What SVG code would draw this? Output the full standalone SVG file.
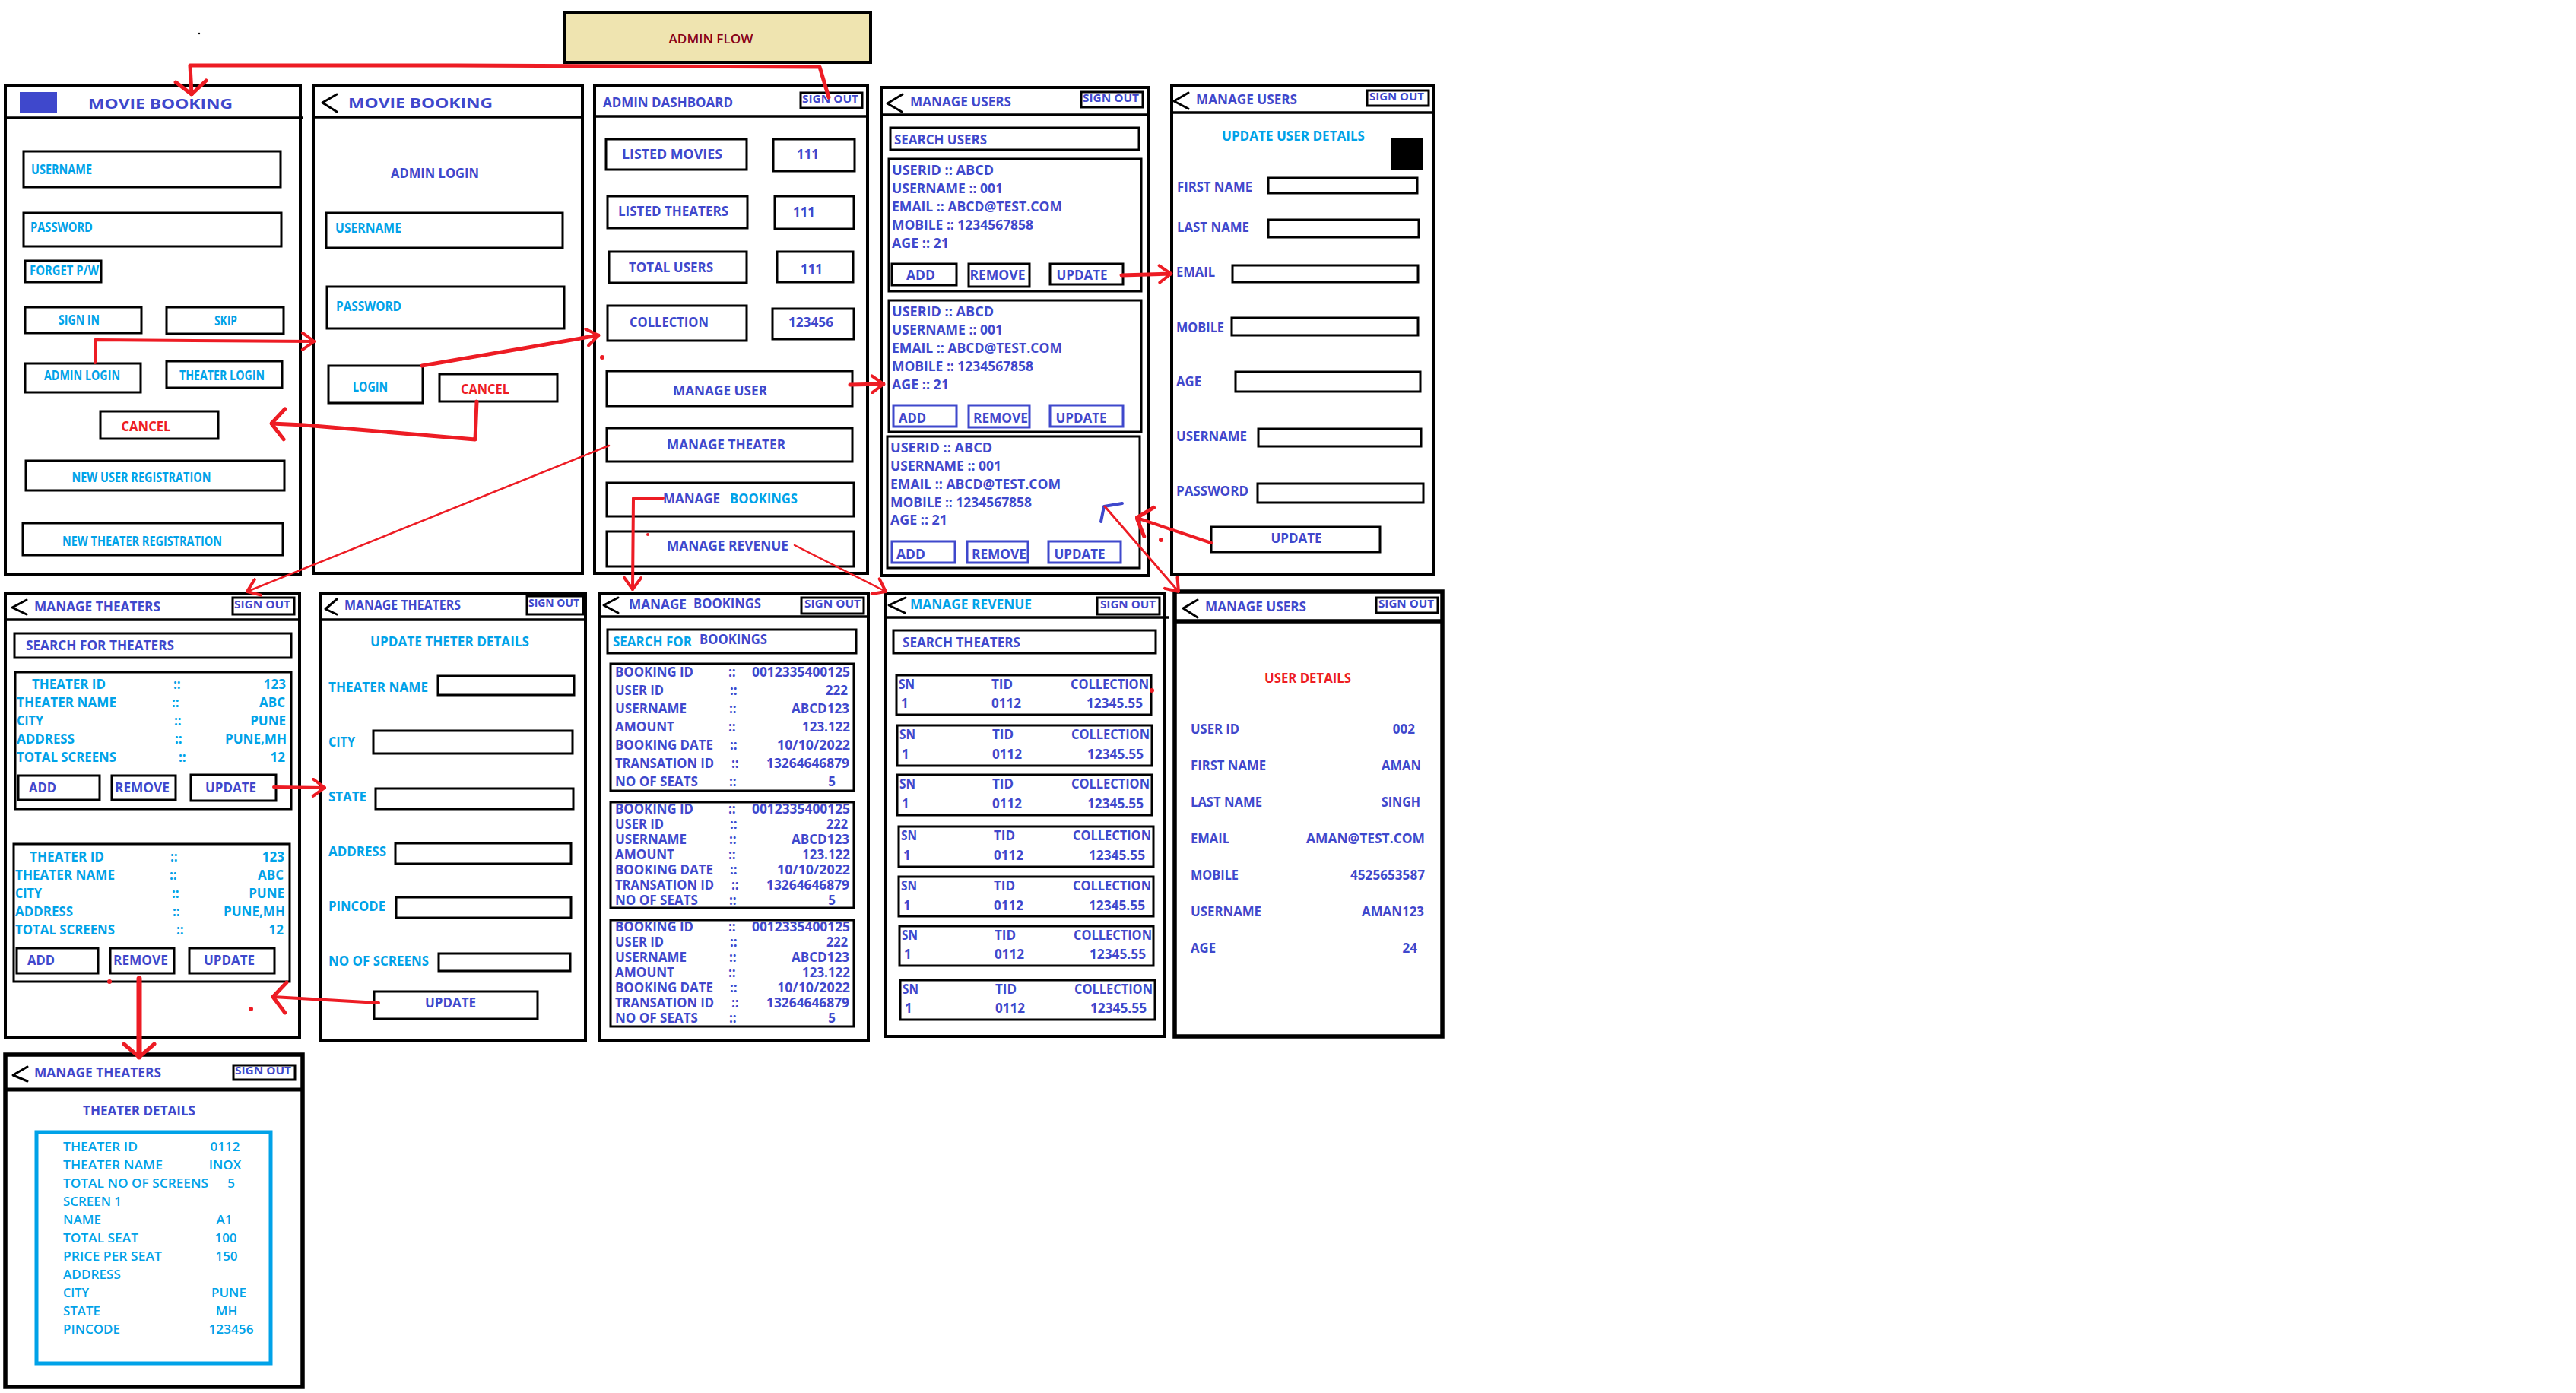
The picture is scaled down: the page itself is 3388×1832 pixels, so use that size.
<svg xmlns="http://www.w3.org/2000/svg" width="3388" height="1832" viewBox="0 0 3388 1832">
<style>
text{font-family:'Open Sans','Liberation Sans',Arial,sans-serif;font-weight:700;font-size:17px}
.b{fill:#3F48CC}.c{fill:#00A2E8}.r{fill:#ED1C24}
.mid{text-anchor:middle}.end{text-anchor:end}
.scr{fill:none;stroke:#000;stroke-width:4}
.scr5{fill:none;stroke:#000;stroke-width:5.5}
.k{fill:none;stroke:#000;stroke-width:3}
.kb{fill:none;stroke:#3F48CC;stroke-width:3}
.ln{stroke:#000;stroke-width:3.5}
.bk{fill:none;stroke:#000;stroke-width:3;stroke-linecap:round;stroke-linejoin:round}
.so{font-size:14px}
.con{fill:none;stroke:#ED1C24;stroke-linecap:round;stroke-linejoin:round}
</style>
<defs>
<marker id="ah" viewBox="0 0 20 26" refX="18" refY="13" markerWidth="20" markerHeight="26" markerUnits="userSpaceOnUse" orient="auto"><path d="M3,2 L18,13 L3,24" fill="none" stroke="#ED1C24" stroke-width="4" stroke-linecap="round"/></marker>
<marker id="ah2" viewBox="0 0 22 46" refX="20" refY="23" markerWidth="22" markerHeight="46" markerUnits="userSpaceOnUse" orient="auto"><path d="M3,3 L20,23 L3,43" fill="none" stroke="#ED1C24" stroke-width="5" stroke-linecap="round"/></marker>
</defs>
<rect width="3388" height="1832" fill="#fff"/>

<g id="title">
<rect x="742" y="17" width="403" height="65" fill="#EFE4B0" stroke="#000" stroke-width="4"/>
<text x="935" y="57" class="mid" fill="#880015" style="font-weight:600" font-size="16" textLength="111" lengthAdjust="spacingAndGlyphs">ADMIN FLOW</text>
</g>
<circle cx="262" cy="44" r="1.2" fill="#000"/>

<g id="screen-login">
<rect x="7" y="112" width="388" height="644" class="scr"/>
<line x1="6" y1="155" x2="398" y2="155" class="ln"/>
<rect x="26" y="121" width="49" height="27" fill="#3F48CC"/>
<text x="116" y="143" class="b" font-size="22" textLength="190" lengthAdjust="spacingAndGlyphs">MOVIE BOOKING</text>
<rect x="31" y="199" width="338" height="47" class="k"/>
<text x="41" y="229" class="c" font-size="14" textLength="80" lengthAdjust="spacingAndGlyphs">USERNAME</text>
<rect x="31" y="280" width="339" height="44" class="k"/>
<text x="40" y="305" class="c" font-size="14" textLength="82" lengthAdjust="spacingAndGlyphs">PASSWORD</text>
<rect x="33" y="343" width="100" height="28" class="k"/>
<text x="39" y="362" class="c" font-size="14" textLength="91" lengthAdjust="spacingAndGlyphs">FORGET P/W</text>
<rect x="33" y="404" width="153" height="34" class="k"/>
<text x="104" y="427" class="c mid" font-size="14" textLength="54" lengthAdjust="spacingAndGlyphs">SIGN IN</text>
<rect x="219" y="404" width="154" height="35" class="k"/>
<text x="297" y="428" class="c mid" font-size="14" textLength="30" lengthAdjust="spacingAndGlyphs">SKIP</text>
<rect x="33" y="478" width="152" height="38" class="k"/>
<text x="108" y="500" class="c mid" font-size="14" textLength="100" lengthAdjust="spacingAndGlyphs">ADMIN LOGIN</text>
<rect x="219" y="475" width="152" height="35" class="k"/>
<text x="292" y="500" class="c mid" font-size="14" textLength="112" lengthAdjust="spacingAndGlyphs">THEATER LOGIN</text>
<rect x="132" y="541" width="155" height="36" class="k"/>
<text x="192" y="567" class="r mid" font-size="18" textLength="65" lengthAdjust="spacingAndGlyphs">CANCEL</text>
<rect x="34" y="606" width="340" height="39" class="k"/>
<text x="186" y="634" class="c mid" font-size="14" textLength="183" lengthAdjust="spacingAndGlyphs">NEW USER REGISTRATION</text>
<rect x="30" y="688" width="342" height="42" class="k"/>
<text x="187" y="718" class="c mid" font-size="14" textLength="210" lengthAdjust="spacingAndGlyphs">NEW THEATER REGISTRATION</text>
</g>

<g id="screen-admin-login">
<rect x="412" y="113" width="354" height="641" class="scr"/>
<line x1="410" y1="154" x2="767" y2="154" class="ln"/>
<polyline points="443,124 424,135 443,147" class="bk"/>
<text x="458" y="142" class="b" font-size="22" textLength="190" lengthAdjust="spacingAndGlyphs">MOVIE BOOKING</text>
<text x="514" y="234" class="b" textLength="116" lengthAdjust="spacingAndGlyphs">ADMIN LOGIN</text>
<rect x="429" y="280" width="311" height="46" class="k"/>
<text x="441" y="306" class="c" font-size="15" textLength="87" lengthAdjust="spacingAndGlyphs">USERNAME</text>
<rect x="430" y="377" width="312" height="55" class="k"/>
<text x="442" y="409" class="c" font-size="15" textLength="86" lengthAdjust="spacingAndGlyphs">PASSWORD</text>
<rect x="432" y="481" width="124" height="49" class="k"/>
<text x="464" y="515" class="c" font-size="15" textLength="46" lengthAdjust="spacingAndGlyphs">LOGIN</text>
<rect x="578" y="492" width="155" height="36" class="k"/>
<text x="606" y="518" class="r" font-size="18" textLength="64" lengthAdjust="spacingAndGlyphs">CANCEL</text>
</g>

<g id="screen-admin-dashboard">
<rect x="782" y="113" width="359" height="641" class="scr"/>
<line x1="782" y1="153" x2="1141" y2="153" class="ln"/>
<text x="793" y="141" class="b" textLength="171" lengthAdjust="spacingAndGlyphs">ADMIN DASHBOARD</text>
<rect x="1053" y="122" width="81" height="20" class="k"/>
<text x="1055" y="135" class="b so" textLength="74" lengthAdjust="spacingAndGlyphs">SIGN OUT</text>
<rect x="797" y="183" width="185" height="40" class="k"/>
<text x="818" y="209" class="b" textLength="132" lengthAdjust="spacingAndGlyphs">LISTED  MOVIES</text>
<rect x="1017" y="183" width="107" height="42" class="k"/>
<text x="1048" y="209" class="b" textLength="29" lengthAdjust="spacingAndGlyphs">111</text>
<rect x="799" y="258" width="184" height="42" class="k"/>
<text x="813" y="284" class="b" textLength="145" lengthAdjust="spacingAndGlyphs">LISTED THEATERS</text>
<rect x="1019" y="258" width="104" height="43" class="k"/>
<text x="1043" y="285" class="b" textLength="29" lengthAdjust="spacingAndGlyphs">111</text>
<rect x="801" y="331" width="181" height="41" class="k"/>
<text x="827" y="358" class="b" textLength="111" lengthAdjust="spacingAndGlyphs">TOTAL USERS</text>
<rect x="1022" y="331" width="100" height="40" class="k"/>
<text x="1053" y="360" class="b" textLength="29" lengthAdjust="spacingAndGlyphs">111</text>
<rect x="799" y="402" width="183" height="46" class="k"/>
<text x="828" y="430" class="b" textLength="104" lengthAdjust="spacingAndGlyphs">COLLECTION</text>
<rect x="1016" y="406" width="107" height="40" class="k"/>
<text x="1037" y="430" class="b" textLength="59" lengthAdjust="spacingAndGlyphs">123456</text>
<rect x="798" y="488" width="323" height="46" class="k"/>
<text x="885" y="520" class="b" textLength="124" lengthAdjust="spacingAndGlyphs">MANAGE USER</text>
<rect x="798" y="563" width="323" height="44" class="k"/>
<text x="877" y="591" class="b" textLength="156" lengthAdjust="spacingAndGlyphs">MANAGE THEATER</text>
<rect x="798" y="635" width="325" height="44" class="k"/>
<text x="872" y="662" class="b" textLength="75" lengthAdjust="spacingAndGlyphs">MANAGE</text>
<text x="960" y="662" class="c" textLength="89" lengthAdjust="spacingAndGlyphs">BOOKINGS</text>
<rect x="798" y="699" width="325" height="46" class="k"/>
<text x="877" y="724" class="b" textLength="160" lengthAdjust="spacingAndGlyphs">MANAGE REVENUE</text>
</g>

<g id="screen-manage-users">
<rect x="1159" y="115" width="351" height="642" class="scr"/>
<line x1="1157" y1="151" x2="1510" y2="151" class="ln"/>
<polyline points="1187,124 1167,136 1186,147" class="bk"/>
<text x="1197" y="140" class="b" textLength="133" lengthAdjust="spacingAndGlyphs">MANAGE USERS</text>
<rect x="1422" y="121" width="81" height="20" class="k"/>
<text x="1424" y="134" class="b so" textLength="74" lengthAdjust="spacingAndGlyphs">SIGN OUT</text>
<rect x="1171" y="168" width="327" height="29" class="k"/>
<text x="1176" y="190" class="b" textLength="122" lengthAdjust="spacingAndGlyphs">SEARCH USERS</text>
<rect x="1169" y="209" width="332" height="174" class="k"/>
<text x="1173" y="230" class="b" textLength="134" lengthAdjust="spacingAndGlyphs">USERID ::  ABCD</text>
<text x="1173" y="254" class="b" textLength="146" lengthAdjust="spacingAndGlyphs">USERNAME :: 001</text>
<text x="1173" y="278" class="b" textLength="224" lengthAdjust="spacingAndGlyphs">EMAIL :: ABCD@TEST.COM</text>
<text x="1173" y="302" class="b" textLength="186" lengthAdjust="spacingAndGlyphs">MOBILE :: 1234567858</text>
<text x="1173" y="326" class="b" textLength="75" lengthAdjust="spacingAndGlyphs">AGE :: 21</text>
<rect x="1173" y="347" width="85" height="28" class="k"/>
<text x="1211" y="368" class="b mid" textLength="38" lengthAdjust="spacingAndGlyphs">ADD</text>
<rect x="1274" y="347" width="80" height="30" class="k"/>
<text x="1312" y="368" class="b mid" textLength="73" lengthAdjust="spacingAndGlyphs">REMOVE</text>
<rect x="1381" y="347" width="96" height="27" class="k"/>
<text x="1423" y="368" class="b mid" textLength="67" lengthAdjust="spacingAndGlyphs">UPDATE</text>
<rect x="1169" y="395" width="332" height="173" class="k"/>
<text x="1173" y="416" class="b" textLength="134" lengthAdjust="spacingAndGlyphs">USERID ::  ABCD</text>
<text x="1173" y="440" class="b" textLength="146" lengthAdjust="spacingAndGlyphs">USERNAME :: 001</text>
<text x="1173" y="464" class="b" textLength="224" lengthAdjust="spacingAndGlyphs">EMAIL :: ABCD@TEST.COM</text>
<text x="1173" y="488" class="b" textLength="186" lengthAdjust="spacingAndGlyphs">MOBILE :: 1234567858</text>
<text x="1173" y="512" class="b" textLength="75" lengthAdjust="spacingAndGlyphs">AGE :: 21</text>
<rect x="1175" y="533" width="83" height="28" class="kb"/>
<text x="1200" y="556" class="b mid" textLength="36" lengthAdjust="spacingAndGlyphs">ADD</text>
<rect x="1274" y="533" width="80" height="29" class="kb"/>
<text x="1316" y="556" class="b mid" textLength="72" lengthAdjust="spacingAndGlyphs">REMOVE</text>
<rect x="1381" y="533" width="96" height="28" class="kb"/>
<text x="1422" y="556" class="b mid" textLength="67" lengthAdjust="spacingAndGlyphs">UPDATE</text>
<rect x="1167" y="574" width="332" height="173" class="k"/>
<text x="1171" y="595" class="b" textLength="134" lengthAdjust="spacingAndGlyphs">USERID ::  ABCD</text>
<text x="1171" y="619" class="b" textLength="146" lengthAdjust="spacingAndGlyphs">USERNAME :: 001</text>
<text x="1171" y="643" class="b" textLength="224" lengthAdjust="spacingAndGlyphs">EMAIL :: ABCD@TEST.COM</text>
<text x="1171" y="667" class="b" textLength="186" lengthAdjust="spacingAndGlyphs">MOBILE :: 1234567858</text>
<text x="1171" y="690" class="b" textLength="75" lengthAdjust="spacingAndGlyphs">AGE :: 21</text>
<rect x="1173" y="712" width="83" height="28" class="kb"/>
<text x="1198" y="735" class="b mid" textLength="38" lengthAdjust="spacingAndGlyphs">ADD</text>
<rect x="1272" y="712" width="80" height="28" class="kb"/>
<text x="1314" y="735" class="b mid" textLength="72" lengthAdjust="spacingAndGlyphs">REMOVE</text>
<rect x="1379" y="712" width="95" height="28" class="kb"/>
<text x="1420" y="735" class="b mid" textLength="67" lengthAdjust="spacingAndGlyphs">UPDATE</text>
<polyline points="1448,686 1452,666 1476,662" fill="none" stroke="#3F48CC" stroke-width="4" stroke-linecap="round" stroke-linejoin="round"/>
</g>

<g id="screen-update-user">
<rect x="1541" y="113" width="344" height="643" class="scr"/>
<line x1="1541" y1="148" x2="1887" y2="148" class="ln"/>
<polyline points="1563,122 1544,133 1563,143" class="bk"/>
<text x="1573" y="137" class="b" textLength="133" lengthAdjust="spacingAndGlyphs">MANAGE USERS</text>
<rect x="1798" y="119" width="81" height="20" class="k"/>
<text x="1801" y="132" class="b so" textLength="72" lengthAdjust="spacingAndGlyphs">SIGN OUT</text>
<text x="1607" y="185" class="c" textLength="188" lengthAdjust="spacingAndGlyphs">UPDATE USER DETAILS</text>
<rect x="1830" y="182" width="41" height="41" fill="#000"/>
<text x="1548" y="252" class="b" textLength="99" lengthAdjust="spacingAndGlyphs">FIRST NAME</text>
<rect x="1668" y="234" width="196" height="20" class="k"/>
<text x="1548" y="305" class="b" textLength="95" lengthAdjust="spacingAndGlyphs">LAST NAME</text>
<rect x="1668" y="289" width="198" height="23" class="k"/>
<text x="1547" y="364" class="b" textLength="51" lengthAdjust="spacingAndGlyphs">EMAIL</text>
<rect x="1621" y="349" width="244" height="22" class="k"/>
<text x="1547" y="437" class="b" textLength="63" lengthAdjust="spacingAndGlyphs">MOBILE</text>
<rect x="1620" y="418" width="245" height="23" class="k"/>
<text x="1547" y="508" class="b" textLength="33" lengthAdjust="spacingAndGlyphs">AGE</text>
<rect x="1625" y="489" width="243" height="26" class="k"/>
<text x="1547" y="580" class="b" textLength="93" lengthAdjust="spacingAndGlyphs">USERNAME</text>
<rect x="1655" y="564" width="214" height="23" class="k"/>
<text x="1547" y="652" class="b" textLength="95" lengthAdjust="spacingAndGlyphs">PASSWORD</text>
<rect x="1654" y="636" width="218" height="25" class="k"/>
<rect x="1593" y="693" width="222" height="33" class="k"/>
<text x="1705" y="714" class="b mid" textLength="67" lengthAdjust="spacingAndGlyphs">UPDATE</text>
</g>

<g id="screen-manage-theaters">
<rect x="7" y="781" width="387" height="584" class="scr"/>
<line x1="5" y1="815" x2="394" y2="815" class="ln"/>
<polyline points="35,789 16,799 35,808" class="bk"/>
<text x="45" y="804" class="b" textLength="166" lengthAdjust="spacingAndGlyphs">MANAGE THEATERS</text>
<rect x="306" y="786" width="81" height="22" class="k"/>
<text x="308" y="800" class="b so" textLength="74" lengthAdjust="spacingAndGlyphs">SIGN OUT</text>
<rect x="19" y="833" width="364" height="32" class="k"/>
<text x="34" y="855" class="b" textLength="195" lengthAdjust="spacingAndGlyphs">SEARCH FOR THEATERS</text>
<rect x="20" y="884" width="363" height="180" class="k"/>
<text x="42" y="906" class="c" textLength="97" lengthAdjust="spacingAndGlyphs">THEATER ID</text>
<text x="228" y="906" class="c">::</text><text x="376" y="906" class="c end">123</text>
<text x="22" y="930" class="c" textLength="131" lengthAdjust="spacingAndGlyphs">THEATER NAME</text>
<text x="226" y="930" class="c">::</text><text x="375" y="930" class="c end">ABC</text>
<text x="22" y="954" class="c" textLength="35" lengthAdjust="spacingAndGlyphs">CITY</text>
<text x="229" y="954" class="c">::</text><text x="376" y="954" class="c end">PUNE</text>
<text x="22" y="978" class="c" textLength="76" lengthAdjust="spacingAndGlyphs">ADDRESS</text>
<text x="230" y="978" class="c">::</text><text x="377" y="978" class="c end" textLength="81" lengthAdjust="spacingAndGlyphs">PUNE,MH</text>
<text x="22" y="1002" class="c" textLength="131" lengthAdjust="spacingAndGlyphs">TOTAL SCREENS</text>
<text x="235" y="1002" class="c">::</text><text x="375" y="1002" class="c end">12</text>
<rect x="24" y="1020" width="107" height="32" class="k"/>
<text x="38" y="1042" class="b" textLength="36" lengthAdjust="spacingAndGlyphs">ADD</text>
<rect x="147" y="1020" width="84" height="32" class="k"/>
<text x="151" y="1042" class="b" textLength="72" lengthAdjust="spacingAndGlyphs">REMOVE</text>
<rect x="251" y="1019" width="112" height="34" class="k"/>
<text x="270" y="1042" class="b" textLength="67" lengthAdjust="spacingAndGlyphs">UPDATE</text>
<rect x="18" y="1110" width="363" height="181" class="k"/>
<text x="39" y="1133" class="c" textLength="98" lengthAdjust="spacingAndGlyphs">THEATER ID</text>
<text x="224" y="1133" class="c">::</text><text x="374" y="1133" class="c end">123</text>
<text x="20" y="1157" class="c" textLength="131" lengthAdjust="spacingAndGlyphs">THEATER NAME</text>
<text x="223" y="1157" class="c">::</text><text x="373" y="1157" class="c end">ABC</text>
<text x="20" y="1181" class="c" textLength="35" lengthAdjust="spacingAndGlyphs">CITY</text>
<text x="226" y="1181" class="c">::</text><text x="374" y="1181" class="c end">PUNE</text>
<text x="20" y="1205" class="c" textLength="76" lengthAdjust="spacingAndGlyphs">ADDRESS</text>
<text x="227" y="1205" class="c">::</text><text x="375" y="1205" class="c end" textLength="81" lengthAdjust="spacingAndGlyphs">PUNE,MH</text>
<text x="20" y="1229" class="c" textLength="131" lengthAdjust="spacingAndGlyphs">TOTAL SCREENS</text>
<text x="232" y="1229" class="c">::</text><text x="373" y="1229" class="c end">12</text>
<rect x="22" y="1247" width="107" height="33" class="k"/>
<text x="36" y="1269" class="b" textLength="36" lengthAdjust="spacingAndGlyphs">ADD</text>
<rect x="145" y="1247" width="84" height="33" class="k"/>
<text x="149" y="1269" class="b" textLength="72" lengthAdjust="spacingAndGlyphs">REMOVE</text>
<rect x="249" y="1247" width="112" height="33" class="k"/>
<text x="268" y="1269" class="b" textLength="67" lengthAdjust="spacingAndGlyphs">UPDATE</text>
</g>

<g id="screen-update-theater">
<rect x="422" y="780" width="348" height="589" class="scr"/>
<line x1="420" y1="815" x2="770" y2="815" class="ln"/>
<polyline points="443,788 428,801 443,808" class="bk"/>
<text x="453" y="802" class="b" textLength="153" lengthAdjust="spacingAndGlyphs">MANAGE THEATERS</text>
<rect x="693" y="784" width="74" height="24" class="k"/>
<text x="695" y="798" class="b so" textLength="67" lengthAdjust="spacingAndGlyphs">SIGN OUT</text>
<text x="487" y="850" class="c" textLength="209" lengthAdjust="spacingAndGlyphs">UPDATE THETER DETAILS</text>
<text x="432" y="910" class="c" textLength="131" lengthAdjust="spacingAndGlyphs">THEATER NAME</text>
<rect x="576" y="889" width="179" height="25" class="k"/>
<text x="432" y="982" class="c" textLength="35" lengthAdjust="spacingAndGlyphs">CITY</text>
<rect x="491" y="961" width="262" height="30" class="k"/>
<text x="432" y="1054" class="c" textLength="50" lengthAdjust="spacingAndGlyphs">STATE</text>
<rect x="494" y="1037" width="260" height="27" class="k"/>
<text x="432" y="1126" class="c" textLength="76" lengthAdjust="spacingAndGlyphs">ADDRESS</text>
<rect x="520" y="1109" width="231" height="27" class="k"/>
<text x="432" y="1198" class="c" textLength="75" lengthAdjust="spacingAndGlyphs">PINCODE</text>
<rect x="521" y="1180" width="230" height="27" class="k"/>
<text x="432" y="1270" class="c" textLength="132" lengthAdjust="spacingAndGlyphs">NO OF SCREENS</text>
<rect x="577" y="1254" width="173" height="23" class="k"/>
<rect x="492" y="1304" width="215" height="36" class="k"/>
<text x="559" y="1325" class="b" textLength="67" lengthAdjust="spacingAndGlyphs">UPDATE</text>
</g>

<g id="screen-manage-bookings">
<rect x="788" y="780" width="354" height="589" class="scr"/>
<line x1="788" y1="811" x2="1142" y2="811" class="ln"/>
<polyline points="813,786 794,796 813,806" class="bk"/>
<text x="827" y="801" class="b" textLength="76" lengthAdjust="spacingAndGlyphs">MANAGE</text>
<text x="912" y="800" class="b" textLength="89" lengthAdjust="spacingAndGlyphs">BOOKINGS</text>
<rect x="1054" y="786" width="82" height="21" class="k"/>
<text x="1058" y="799" class="b so" textLength="74" lengthAdjust="spacingAndGlyphs">SIGN OUT</text>
<rect x="799" y="828" width="327" height="31" class="k"/>
<text x="806" y="850" class="c" textLength="104" lengthAdjust="spacingAndGlyphs">SEARCH FOR</text>
<text x="920" y="847" class="b" textLength="89" lengthAdjust="spacingAndGlyphs">BOOKINGS</text>
<rect x="803" y="873" width="320" height="167" class="k"/>
<g class="b">
<text x="809" y="890" class="b" textLength="103" lengthAdjust="spacingAndGlyphs">BOOKING ID</text><text x="958" y="890" class="b">::</text><text x="1118" y="890" class="b end" textLength="129" lengthAdjust="spacingAndGlyphs">0012335400125</text>
<text x="809" y="914" class="b" textLength="64" lengthAdjust="spacingAndGlyphs">USER ID</text><text x="960" y="914" class="b">::</text><text x="1115" y="914" class="b end">222</text>
<text x="809" y="938" class="b" textLength="94" lengthAdjust="spacingAndGlyphs">USERNAME</text><text x="959" y="938" class="b">::</text><text x="1117" y="938" class="b end" textLength="76" lengthAdjust="spacingAndGlyphs">ABCD123</text>
<text x="809" y="962" class="b" textLength="78" lengthAdjust="spacingAndGlyphs">AMOUNT</text><text x="958" y="962" class="b">::</text><text x="1118" y="962" class="b end" textLength="63" lengthAdjust="spacingAndGlyphs">123.122</text>
<text x="809" y="986" class="b" textLength="129" lengthAdjust="spacingAndGlyphs">BOOKING DATE</text><text x="960" y="986" class="b">::</text><text x="1118" y="986" class="b end" textLength="96" lengthAdjust="spacingAndGlyphs">10/10/2022</text>
<text x="809" y="1010" class="b" textLength="130" lengthAdjust="spacingAndGlyphs">TRANSATION ID</text><text x="962" y="1010" class="b">::</text><text x="1117" y="1010" class="b end" textLength="109" lengthAdjust="spacingAndGlyphs">13264646879</text>
<text x="809" y="1034" class="b" textLength="109" lengthAdjust="spacingAndGlyphs">NO OF SEATS</text><text x="959" y="1034" class="b">::</text><text x="1099" y="1034" class="b end">5</text>
</g>
<rect x="803" y="1055" width="320" height="139" class="k"/>
<g font-size="15">
<text x="809" y="1070" class="b" font-size="15" textLength="103" lengthAdjust="spacingAndGlyphs">BOOKING ID</text><text x="958" y="1070" class="b" font-size="15">::</text><text x="1118" y="1070" class="b end" font-size="15" textLength="129" lengthAdjust="spacingAndGlyphs">0012335400125</text>
<text x="809" y="1090" class="b" font-size="15" textLength="64" lengthAdjust="spacingAndGlyphs">USER ID</text><text x="960" y="1090" class="b" font-size="15">::</text><text x="1115" y="1090" class="b end" font-size="15" textLength="28" lengthAdjust="spacingAndGlyphs">222</text>
<text x="809" y="1110" class="b" font-size="15" textLength="94" lengthAdjust="spacingAndGlyphs">USERNAME</text><text x="959" y="1110" class="b" font-size="15">::</text><text x="1117" y="1110" class="b end" font-size="15" textLength="76" lengthAdjust="spacingAndGlyphs">ABCD123</text>
<text x="809" y="1130" class="b" font-size="15" textLength="78" lengthAdjust="spacingAndGlyphs">AMOUNT</text><text x="958" y="1130" class="b" font-size="15">::</text><text x="1118" y="1130" class="b end" font-size="15" textLength="63" lengthAdjust="spacingAndGlyphs">123.122</text>
<text x="809" y="1150" class="b" font-size="15" textLength="129" lengthAdjust="spacingAndGlyphs">BOOKING DATE</text><text x="960" y="1150" class="b" font-size="15">::</text><text x="1118" y="1150" class="b end" font-size="15" textLength="96" lengthAdjust="spacingAndGlyphs">10/10/2022</text>
<text x="809" y="1170" class="b" font-size="15" textLength="130" lengthAdjust="spacingAndGlyphs">TRANSATION ID</text><text x="962" y="1170" class="b" font-size="15">::</text><text x="1117" y="1170" class="b end" font-size="15" textLength="109" lengthAdjust="spacingAndGlyphs">13264646879</text>
<text x="809" y="1190" class="b" font-size="15" textLength="109" lengthAdjust="spacingAndGlyphs">NO OF SEATS</text><text x="959" y="1190" class="b" font-size="15">::</text><text x="1099" y="1190" class="b end" font-size="15">5</text>
</g>
<rect x="803" y="1210" width="320" height="140" class="k"/>
<g>
<text x="809" y="1225" class="b" font-size="15" textLength="103" lengthAdjust="spacingAndGlyphs">BOOKING ID</text><text x="958" y="1225" class="b" font-size="15">::</text><text x="1118" y="1225" class="b end" font-size="15" textLength="129" lengthAdjust="spacingAndGlyphs">0012335400125</text>
<text x="809" y="1245" class="b" font-size="15" textLength="64" lengthAdjust="spacingAndGlyphs">USER ID</text><text x="960" y="1245" class="b" font-size="15">::</text><text x="1115" y="1245" class="b end" font-size="15" textLength="28" lengthAdjust="spacingAndGlyphs">222</text>
<text x="809" y="1265" class="b" font-size="15" textLength="94" lengthAdjust="spacingAndGlyphs">USERNAME</text><text x="959" y="1265" class="b" font-size="15">::</text><text x="1117" y="1265" class="b end" font-size="15" textLength="76" lengthAdjust="spacingAndGlyphs">ABCD123</text>
<text x="809" y="1285" class="b" font-size="15" textLength="78" lengthAdjust="spacingAndGlyphs">AMOUNT</text><text x="958" y="1285" class="b" font-size="15">::</text><text x="1118" y="1285" class="b end" font-size="15" textLength="63" lengthAdjust="spacingAndGlyphs">123.122</text>
<text x="809" y="1305" class="b" font-size="15" textLength="129" lengthAdjust="spacingAndGlyphs">BOOKING DATE</text><text x="960" y="1305" class="b" font-size="15">::</text><text x="1118" y="1305" class="b end" font-size="15" textLength="96" lengthAdjust="spacingAndGlyphs">10/10/2022</text>
<text x="809" y="1325" class="b" font-size="15" textLength="130" lengthAdjust="spacingAndGlyphs">TRANSATION ID</text><text x="962" y="1325" class="b" font-size="15">::</text><text x="1117" y="1325" class="b end" font-size="15" textLength="109" lengthAdjust="spacingAndGlyphs">13264646879</text>
<text x="809" y="1345" class="b" font-size="15" textLength="109" lengthAdjust="spacingAndGlyphs">NO OF SEATS</text><text x="959" y="1345" class="b" font-size="15">::</text><text x="1099" y="1345" class="b end" font-size="15">5</text>
</g>
</g>

<g id="screen-manage-revenue">
<rect x="1164" y="780" width="368" height="583" class="scr"/>
<line x1="1164" y1="812" x2="1538" y2="812" class="ln"/>
<polyline points="1191,786 1169,796 1190,806" class="bk"/>
<text x="1197" y="801" class="c" textLength="160" lengthAdjust="spacingAndGlyphs">MANAGE REVENUE</text>
<rect x="1443" y="786" width="82" height="22" class="k"/>
<text x="1447" y="800" class="b so" textLength="73" lengthAdjust="spacingAndGlyphs">SIGN OUT</text>
<rect x="1175" y="829" width="345" height="30" class="k"/>
<text x="1187" y="851" class="b" textLength="155" lengthAdjust="spacingAndGlyphs">SEARCH THEATERS</text>
<rect x="1179" y="888" width="335" height="52" class="k"/>
<text x="1182" y="906" class="b" textLength="21" lengthAdjust="spacingAndGlyphs">SN</text><text x="1304" y="906" class="b" textLength="28" lengthAdjust="spacingAndGlyphs">TID</text><text x="1408" y="906" class="b" textLength="103" lengthAdjust="spacingAndGlyphs">COLLECTION</text>
<text x="1185" y="931" class="b">1</text><text x="1304" y="931" class="b" textLength="39" lengthAdjust="spacingAndGlyphs">0112</text><text x="1429" y="931" class="b" textLength="74" lengthAdjust="spacingAndGlyphs">12345.55</text>
<rect x="1180" y="954" width="335" height="53" class="k"/>
<text x="1183" y="972" class="b" textLength="21" lengthAdjust="spacingAndGlyphs">SN</text><text x="1305" y="972" class="b" textLength="28" lengthAdjust="spacingAndGlyphs">TID</text><text x="1409" y="972" class="b" textLength="103" lengthAdjust="spacingAndGlyphs">COLLECTION</text>
<text x="1186" y="998" class="b">1</text><text x="1305" y="998" class="b" textLength="39" lengthAdjust="spacingAndGlyphs">0112</text><text x="1430" y="998" class="b" textLength="74" lengthAdjust="spacingAndGlyphs">12345.55</text>
<rect x="1180" y="1019" width="335" height="53" class="k"/>
<text x="1183" y="1037" class="b" textLength="21" lengthAdjust="spacingAndGlyphs">SN</text><text x="1305" y="1037" class="b" textLength="28" lengthAdjust="spacingAndGlyphs">TID</text><text x="1409" y="1037" class="b" textLength="103" lengthAdjust="spacingAndGlyphs">COLLECTION</text>
<text x="1186" y="1063" class="b">1</text><text x="1305" y="1063" class="b" textLength="39" lengthAdjust="spacingAndGlyphs">0112</text><text x="1430" y="1063" class="b" textLength="74" lengthAdjust="spacingAndGlyphs">12345.55</text>
<rect x="1182" y="1087" width="335" height="53" class="k"/>
<text x="1185" y="1105" class="b" textLength="21" lengthAdjust="spacingAndGlyphs">SN</text><text x="1307" y="1105" class="b" textLength="28" lengthAdjust="spacingAndGlyphs">TID</text><text x="1411" y="1105" class="b" textLength="103" lengthAdjust="spacingAndGlyphs">COLLECTION</text>
<text x="1188" y="1131" class="b">1</text><text x="1307" y="1131" class="b" textLength="39" lengthAdjust="spacingAndGlyphs">0112</text><text x="1432" y="1131" class="b" textLength="74" lengthAdjust="spacingAndGlyphs">12345.55</text>
<rect x="1182" y="1153" width="335" height="52" class="k"/>
<text x="1185" y="1171" class="b" textLength="21" lengthAdjust="spacingAndGlyphs">SN</text><text x="1307" y="1171" class="b" textLength="28" lengthAdjust="spacingAndGlyphs">TID</text><text x="1411" y="1171" class="b" textLength="103" lengthAdjust="spacingAndGlyphs">COLLECTION</text>
<text x="1188" y="1197" class="b">1</text><text x="1307" y="1197" class="b" textLength="39" lengthAdjust="spacingAndGlyphs">0112</text><text x="1432" y="1197" class="b" textLength="74" lengthAdjust="spacingAndGlyphs">12345.55</text>
<rect x="1183" y="1218" width="334" height="52" class="k"/>
<text x="1186" y="1236" class="b" textLength="21" lengthAdjust="spacingAndGlyphs">SN</text><text x="1308" y="1236" class="b" textLength="28" lengthAdjust="spacingAndGlyphs">TID</text><text x="1412" y="1236" class="b" textLength="103" lengthAdjust="spacingAndGlyphs">COLLECTION</text>
<text x="1189" y="1261" class="b">1</text><text x="1308" y="1261" class="b" textLength="39" lengthAdjust="spacingAndGlyphs">0112</text><text x="1433" y="1261" class="b" textLength="74" lengthAdjust="spacingAndGlyphs">12345.55</text>
<rect x="1184" y="1289" width="335" height="52" class="k"/>
<text x="1187" y="1307" class="b" textLength="21" lengthAdjust="spacingAndGlyphs">SN</text><text x="1309" y="1307" class="b" textLength="28" lengthAdjust="spacingAndGlyphs">TID</text><text x="1413" y="1307" class="b" textLength="103" lengthAdjust="spacingAndGlyphs">COLLECTION</text>
<text x="1190" y="1332" class="b">1</text><text x="1309" y="1332" class="b" textLength="39" lengthAdjust="spacingAndGlyphs">0112</text><text x="1434" y="1332" class="b" textLength="74" lengthAdjust="spacingAndGlyphs">12345.55</text>
</g>

<g id="screen-user-details">
<rect x="1545" y="778" width="352" height="585" class="scr5"/>
<line x1="1545" y1="817" x2="1897" y2="817" stroke="#000" stroke-width="5.5"/>
<polyline points="1575,789 1556,800 1575,812" class="bk"/>
<text x="1585" y="804" class="b" textLength="133" lengthAdjust="spacingAndGlyphs">MANAGE USERS</text>
<rect x="1810" y="786" width="81" height="20" class="k"/>
<text x="1813" y="799" class="b so" textLength="73" lengthAdjust="spacingAndGlyphs">SIGN OUT</text>
<text x="1663" y="898" class="r" textLength="114" lengthAdjust="spacingAndGlyphs">USER DETAILS</text>
<text x="1566" y="965" class="b" textLength="64" lengthAdjust="spacingAndGlyphs">USER ID</text><text x="1861" y="965" class="b end">002</text>
<text x="1566" y="1013" class="b" textLength="99" lengthAdjust="spacingAndGlyphs">FIRST NAME</text><text x="1869" y="1013" class="b end" textLength="52" lengthAdjust="spacingAndGlyphs">AMAN</text>
<text x="1566" y="1061" class="b" textLength="94" lengthAdjust="spacingAndGlyphs">LAST NAME</text><text x="1868" y="1061" class="b end" textLength="51" lengthAdjust="spacingAndGlyphs">SINGH</text>
<text x="1566" y="1109" class="b" textLength="51" lengthAdjust="spacingAndGlyphs">EMAIL</text><text x="1874" y="1109" class="b end" textLength="156" lengthAdjust="spacingAndGlyphs">AMAN@TEST.COM</text>
<text x="1566" y="1157" class="b" textLength="63" lengthAdjust="spacingAndGlyphs">MOBILE</text><text x="1874" y="1157" class="b end" textLength="98" lengthAdjust="spacingAndGlyphs">4525653587</text>
<text x="1566" y="1205" class="b" textLength="93" lengthAdjust="spacingAndGlyphs">USERNAME</text><text x="1873" y="1205" class="b end" textLength="82" lengthAdjust="spacingAndGlyphs">AMAN123</text>
<text x="1566" y="1253" class="b" textLength="33" lengthAdjust="spacingAndGlyphs">AGE</text><text x="1864" y="1253" class="b end">24</text>
</g>

<g id="screen-theater-details">
<rect x="7" y="1387" width="391" height="437" class="scr5"/>
<line x1="5" y1="1433" x2="398" y2="1433" stroke="#000" stroke-width="5"/>
<polyline points="36,1403 17,1414 36,1422" class="bk"/>
<text x="45" y="1417" class="b" textLength="167" lengthAdjust="spacingAndGlyphs">MANAGE THEATERS</text>
<rect x="307" y="1401" width="81" height="19" class="k"/>
<text x="309" y="1413" class="b so" textLength="74" lengthAdjust="spacingAndGlyphs">SIGN OUT</text>
<text x="109" y="1467" class="b" font-size="18" textLength="148" lengthAdjust="spacingAndGlyphs">THEATER DETAILS</text>
<rect x="48" y="1489" width="308" height="304" fill="none" stroke="#00A2E8" stroke-width="5"/>
<g style="font-weight:600">
<text x="83" y="1514" class="c" font-size="18" style="font-weight:600" textLength="98" lengthAdjust="spacingAndGlyphs">THEATER ID</text><text x="296" y="1514" class="c mid" font-size="18" style="font-weight:600">0112</text>
<text x="83" y="1538" class="c" font-size="18" style="font-weight:600" textLength="131" lengthAdjust="spacingAndGlyphs">THEATER NAME</text><text x="296" y="1538" class="c mid" font-size="18" style="font-weight:600">INOX</text>
<text x="83" y="1562" class="c" font-size="18" style="font-weight:600" textLength="191" lengthAdjust="spacingAndGlyphs">TOTAL NO OF SCREENS</text><text x="304" y="1562" class="c mid" font-size="18" style="font-weight:600">5</text>
<text x="83" y="1586" class="c" font-size="18" style="font-weight:600" textLength="77" lengthAdjust="spacingAndGlyphs">SCREEN 1</text>
<text x="83" y="1610" class="c" font-size="18" style="font-weight:600" textLength="50" lengthAdjust="spacingAndGlyphs">NAME</text><text x="295" y="1610" class="c mid" font-size="18" style="font-weight:600">A1</text>
<text x="83" y="1634" class="c" font-size="18" style="font-weight:600" textLength="99" lengthAdjust="spacingAndGlyphs">TOTAL SEAT</text><text x="297" y="1634" class="c mid" font-size="18" style="font-weight:600">100</text>
<text x="83" y="1658" class="c" font-size="18" style="font-weight:600" textLength="130" lengthAdjust="spacingAndGlyphs">PRICE PER SEAT</text><text x="298" y="1658" class="c mid" font-size="18" style="font-weight:600">150</text>
<text x="83" y="1682" class="c" font-size="18" style="font-weight:600" textLength="76" lengthAdjust="spacingAndGlyphs">ADDRESS</text>
<text x="83" y="1706" class="c" font-size="18" style="font-weight:600" textLength="34" lengthAdjust="spacingAndGlyphs">CITY</text><text x="301" y="1706" class="c mid" font-size="18" style="font-weight:600">PUNE</text>
<text x="83" y="1730" class="c" font-size="18" style="font-weight:600" textLength="49" lengthAdjust="spacingAndGlyphs">STATE</text><text x="298" y="1730" class="c mid" font-size="18" style="font-weight:600">MH</text>
<text x="83" y="1754" class="c" font-size="18" style="font-weight:600" textLength="75" lengthAdjust="spacingAndGlyphs">PINCODE</text><text x="304" y="1754" class="c mid" font-size="18" style="font-weight:600" textLength="59" lengthAdjust="spacingAndGlyphs">123456</text>
</g>
</g>

<g id="connectors">
<path d="M1090,128 L1078,88 L600,86 L250,86 L252,124" class="con" stroke-width="5" marker-end="url(#ah2)"/>
<path d="M125,477 L125,447 L413,449" class="con" stroke-width="4" marker-end="url(#ah)"/>
<path d="M627,528 L625,578 L400,559 L357,557" class="con" stroke-width="5" marker-end="url(#ah2)"/>
<path d="M555,481 L787,441" class="con" stroke-width="5" marker-end="url(#ah)"/>
<path d="M1118,506 L1162,505" class="con" stroke-width="5" marker-end="url(#ah)"/>
<path d="M801,586 L325,778" class="con" stroke-width="2.5" marker-end="url(#ah)"/>
<path d="M872,655 L833,655 L832,775" class="con" stroke-width="4" marker-end="url(#ah)"/>
<path d="M1045,717 L1165,778" class="con" stroke-width="2.5" marker-end="url(#ah)"/>
<path d="M1475,362 L1540,360" class="con" stroke-width="5" marker-end="url(#ah)"/>
<path d="M1593,714 L1495,681" class="con" stroke-width="4" marker-end="url(#ah2)"/>
<path d="M1453,666 L1550,778" class="con" stroke-width="3" marker-end="url(#ah)"/>
<path d="M360,1035 L427,1036" class="con" stroke-width="4" marker-end="url(#ah)"/>
<path d="M183,1287 L183,1390" class="con" stroke-width="7" marker-end="url(#ah2)"/>
<path d="M498,1319 L359,1311" class="con" stroke-width="4" marker-end="url(#ah2)"/>
<circle cx="792" cy="470" r="3" fill="#ED1C24"/>
<circle cx="852" cy="703" r="2" fill="#ED1C24"/>
<circle cx="1527" cy="710" r="3" fill="#ED1C24"/>
<circle cx="144" cy="1291" r="3" fill="#ED1C24"/>
<circle cx="330" cy="1327" r="3" fill="#ED1C24"/>
<circle cx="1515" cy="908" r="3" fill="#ED1C24"/>
</g>
</svg>
